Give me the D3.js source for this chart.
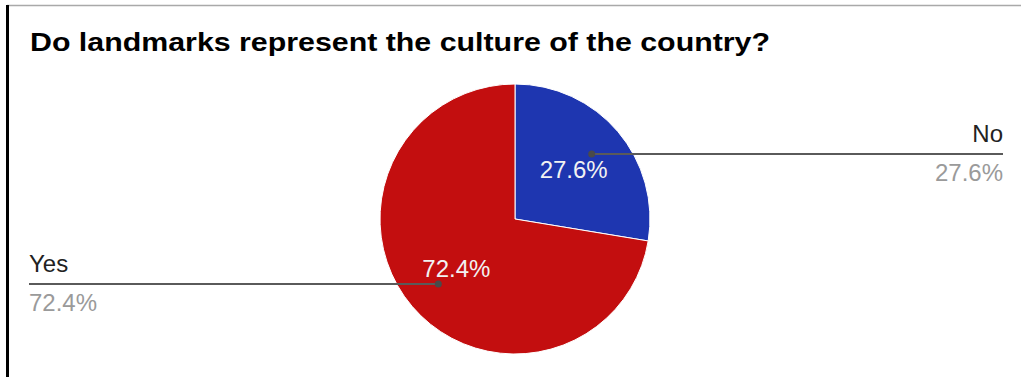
<!DOCTYPE html>
<html>
<head>
<meta charset="utf-8">
<script src="https://cdn.jsdelivr.net/npm/d3@7"></script>
<style>
  html, body { margin: 0; padding: 0; background: #fff; }
  svg { display: block; font-family: "Liberation Sans", Arial, sans-serif; }
</style>
</head>
<body>
<svg id="chart" width="1021" height="377"></svg>
<script>
// Survey answers
const title = "Do landmarks represent the culture of the country?";
const categories = ["No", "Yes"];
const values = [27.6, 72.4];
const colors = ["#1e36b0", "#c30e0f"];

const svg = d3.select("#chart");
const W = 1021, H = 377;

// Frame edges
svg.append("line").attr("x1", 7).attr("x2", W).attr("y1", 5.5).attr("y2", 5.5)
  .attr("stroke", "#a9a9a9").attr("stroke-width", 1.5);
svg.append("line").attr("x1", 7.5).attr("x2", 7.5).attr("y1", 5).attr("y2", H)
  .attr("stroke", "#000").attr("stroke-width", 3);

// Title
svg.append("text")
  .attr("x", 30).attr("y", 51)
  .attr("font-size", 26).attr("font-weight", "bold").attr("fill", "#000")
  .attr("textLength", 740).attr("lengthAdjust", "spacingAndGlyphs")
  .text(title);

// Pie
const cx = 515, cy = 219, r = 135;
const data = categories.map((c, i) => ({ name: c, value: values[i], color: colors[i] }));
const pie = d3.pie().sort(null).value(d => d.value);
const arcs = pie(data);
const arc = d3.arc().innerRadius(0).outerRadius(r);

const g = svg.append("g").attr("transform", `translate(${cx},${cy})`);
g.selectAll("path.slice").data(arcs).join("path")
  .attr("class", "slice")
  .attr("d", arc)
  .attr("fill", d => d.data.color)
  .attr("stroke", "#fff").attr("stroke-width", 1);

const fmt = v => v.toFixed(1) + "%";
const mid = d => (d.startAngle + d.endAngle) / 2;
const polar = (a, rad) => [Math.sin(a) * rad, -Math.cos(a) * rad];

// Leader lines with outside labels
const lineEnd = { No: W - 18, Yes: 29 };
arcs.forEach(d => {
  const [px, py] = polar(mid(d), r * 0.745);
  const ex = lineEnd[d.data.name] - cx;
  const right = ex > 0;
  g.append("line")
    .attr("x1", px).attr("y1", py).attr("x2", ex).attr("y2", py)
    .attr("stroke", "#5a5a5a").attr("stroke-width", 2);
  g.append("circle").attr("cx", px).attr("cy", py).attr("r", 3.5).attr("fill", "#4a4a4a");
  g.append("text")
    .attr("x", ex).attr("y", py - 12)
    .attr("text-anchor", right ? "end" : "start")
    .attr("font-size", 24).attr("fill", "#222")
    .text(d.data.name);
  g.append("text")
    .attr("x", ex).attr("y", py + 27)
    .attr("text-anchor", right ? "end" : "start")
    .attr("font-size", 24).attr("fill", "#9a9a9a")
    .text(fmt(d.data.value));
});

// Inside percentage labels
g.selectAll("text.inner").data(arcs).join("text")
  .attr("class", "inner")
  .attr("x", d => polar(mid(d), r * 0.57)[0])
  .attr("y", d => polar(mid(d), r * 0.57)[1])
  .attr("dy", "0.36em")
  .attr("text-anchor", "middle")
  .attr("font-size", 24).attr("fill", "#f2f2f2")
  .text(d => fmt(d.data.value));
</script>
</body>
</html>
